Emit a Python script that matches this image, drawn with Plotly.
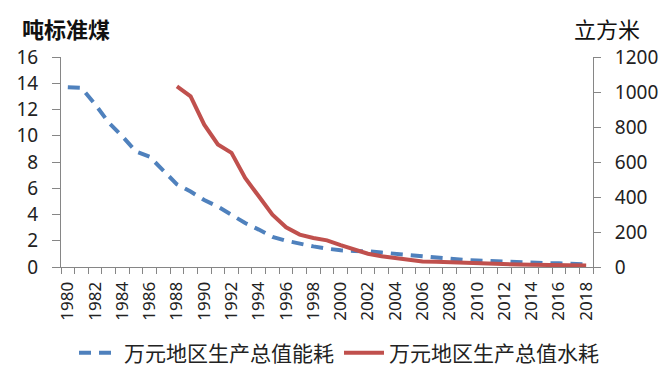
import plotly.graph_objects as go

years = list(range(1980, 2019))
energy = [13.7, 13.65, 12.4, 11.0, 9.95, 8.8, 8.4, 7.4, 6.3, 5.75, 5.1, 4.6, 4.0, 3.35,
          2.85, 2.3, 2.0, 1.75, 1.57, 1.4, 1.27, 1.22, 1.2, 1.1, 1.0, 0.9, 0.8, 0.7, 0.6,
          0.55, 0.5, 0.45, 0.4, 0.36, 0.33, 0.3, 0.28, 0.24, 0.2]
water_years = list(range(1988, 2019))
water = [1032, 975, 813, 700, 652, 509, 404, 299, 227, 185, 166, 152, 125, 103, 76, 61,
         51, 42, 32, 30, 27, 23, 19, 17, 14, 14, 13, 12, 11, 10, 8]
left_ticks = [0, 2, 4, 6, 8, 10, 12, 14, 16]
right_ticks = [0, 200, 400, 600, 800, 1000, 1200]
label_years = [y for y in years if y % 2 == 0]
names = ["万元地区生产总值能耗", "万元地区生产总值水耗"]

font = "Noto Sans, Noto Sans CJK SC, sans-serif"
cjk = "Noto Sans CJK SC, sans-serif"
axis_col = "#868686"

# the page body has an 8px default margin; lay the figure out in page pixels minus 8
OFF = 8
W, H = 671 - OFF, 383 - OFF
L, R, T, B = 61 - OFF, 593 - OFF, 57 - OFF, 267 - OFF

fig = go.Figure()
fig.add_trace(go.Scatter(x=years, y=energy, name=names[0], mode="lines",
                         line=dict(color="#4F81BD", width=4, dash="12px,8px")))
fig.add_trace(go.Scatter(x=water_years, y=water, name=names[1], mode="lines", yaxis="y2",
                         line=dict(color="#C0504D", width=4)))

boundaries = [y - 0.5 for y in years] + [years[-1] + 0.5]

fig.update_layout(
    width=W, height=H,
    margin=dict(l=L, r=W - R, t=T, b=H - B, autoexpand=False),
    paper_bgcolor="white", plot_bgcolor="white",
    font=dict(family=font, color="#000000"),
    showlegend=True,
    legend=dict(orientation="h", x=(339 - OFF - L) / (R - L), xanchor="center",
                y=(H - (353 - OFF)) / H, yanchor="middle",
                yref="container", font=dict(family=cjk, size=21, color="#222"),
                itemwidth=40, tracegroupgap=0),
    xaxis=dict(range=[1979.5, 2018.5], showgrid=False, zeroline=False,
               showline=True, linecolor=axis_col, linewidth=1,
               tickmode="array", tickvals=label_years, ticktext=[str(y) for y in label_years],
               ticks="", tickangle=-90, tickfont=dict(size=17, color="#222"),
               ticklabelstandoff=7,
               minor=dict(tickmode="array", tickvals=boundaries, ticks="outside",
                          ticklen=6, tickcolor=axis_col, showgrid=False)),
    yaxis=dict(range=[0, 16], tickvals=left_ticks, showgrid=False, zeroline=False,
               showline=True, linecolor=axis_col, ticks="outside", ticklen=8,
               tickcolor=axis_col, tickfont=dict(size=19, color="#222"), ticklabelstandoff=10),
    yaxis2=dict(range=[0, 1200], tickvals=right_ticks, overlaying="y", side="right",
                showgrid=False, zeroline=False, showline=True, linecolor=axis_col,
                ticks="outside", ticklen=7, tickcolor=axis_col,
                tickfont=dict(size=19, color="#222"), ticklabelstandoff=10),
    annotations=[
        dict(text="<b>吨标准煤</b>", x=20, y=28, xref="paper", yref="paper",
             showarrow=False, xanchor="left", yanchor="middle",
             font=dict(family=cjk, size=22, color="#111")),
        dict(text="立方米", x=572, y=28, xref="paper", yref="paper",
             showarrow=False, xanchor="left", yanchor="middle",
             font=dict(family=cjk, size=22, color="#111")),
    ],
)
pw = R - L
ph = B - T
for a in fig.layout.annotations:
    px, py = a.x - OFF, a.y - OFF
    a.x = (px - L) / pw
    a.y = (B - py) / ph

fig.write_html("out.html")
